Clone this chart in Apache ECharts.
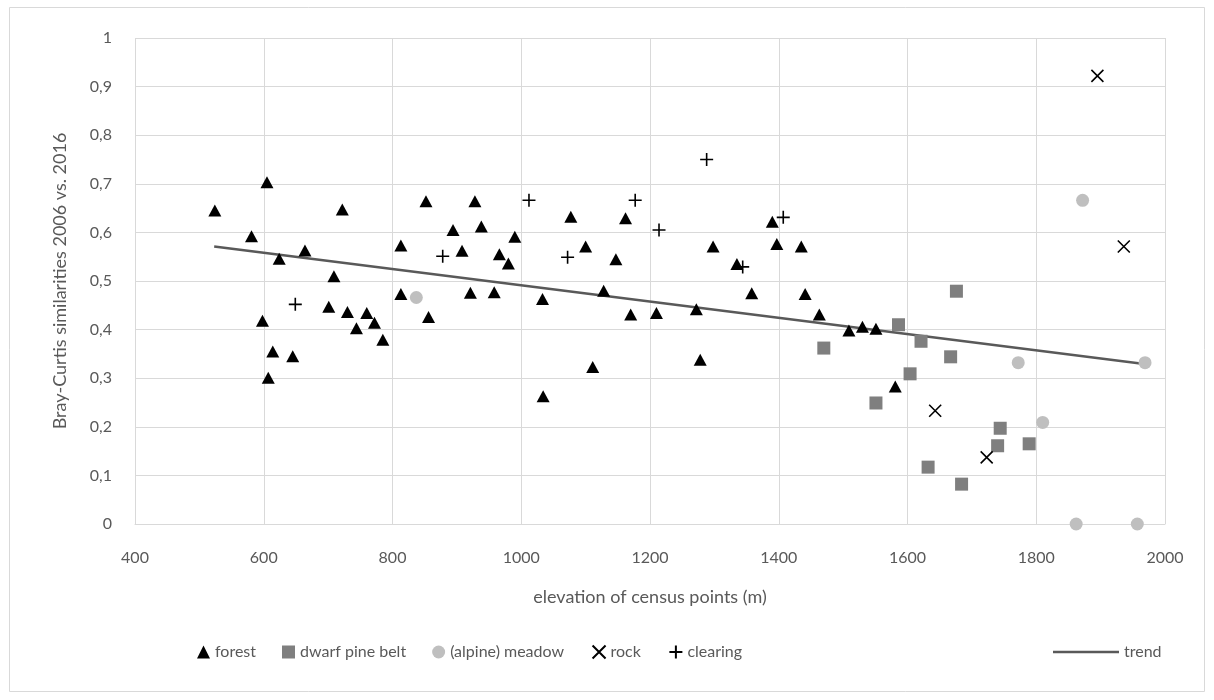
<!DOCTYPE html>
<html><head><meta charset="utf-8">
<script src="https://cdn.jsdelivr.net/npm/echarts@6/dist/echarts.min.js"></script>
<style>html,body{margin:0;padding:0;background:#fff}#c{width:1214px;height:700px}</style>
</head><body><div id="c"></div>
<script>
const xTicks = [400, 600, 800, 1000, 1200, 1400, 1600, 1800, 2000];
const forest = [[524,0.645],[605,0.703],[722,0.647],[581,0.592],[624,0.546],[664,0.563],[709,0.510],[813,0.573],[852,0.664],[928,0.664],[894,0.605],[908,0.562],[813,0.473],[856,0.426],[921,0.476],[598,0.418],[701,0.447],[730,0.436],[760,0.434],[744,0.403],[772,0.414],[785,0.379],[614,0.355],[645,0.345],[607,0.301],
[938,0.612],[990,0.591],[966,0.555],[980,0.536],[1077,0.632],[1162,0.629],[1100,0.571],[1147,0.545],[1298,0.571],[1335,0.535],[1358,0.475],[958,0.477],[1033,0.463],[1128,0.480],[1170,0.431],[1210,0.434],[1272,0.442],[1111,0.323],[1278,0.338],[1034,0.263],
[1390,0.622],[1397,0.576],[1435,0.571],[1441,0.473],[1463,0.431],[1509,0.398],[1530,0.406],[1551,0.402],[1581,0.283]];
const dwarfPine = [[1470,0.362],[1586,0.410],[1621,0.376],[1676,0.479],[1667,0.344],[1604,0.309],[1551,0.249],[1744,0.197],[1740,0.161],[1789,0.165],[1632,0.117],[1684,0.082]];
const meadow = [[837,0.466],[1872,0.666],[1772,0.332],[1969,0.332],[1810,0.209],[1862,0],[1957,0]];
const rock = [[1895,0.922],[1936,0.571],[1643,0.233],[1723,0.137]];
const clearing = [[649,0.452],[878,0.551],[1012,0.666],[1072,0.549],[1177,0.666],[1214,0.605],[1288,0.750],[1344,0.529],[1407,0.631]];
const trend = [[523,0.571],[1968,0.329]];

const FONT = 'Lato';
const TXT = '#595959';
const GRID = '#d9d9d9';
const chart = echarts.init(document.getElementById('c'), null, {renderer:'canvas'});
const crossPath = 'path://M0,0L10,10M10,0L0,10';
const plusPath = 'path://M5,0L5,10M0,5L10,5';
chart.setOption({
  animation:false,
  backgroundColor:'#fff',
  textStyle:{fontFamily:FONT},
  graphic:[{type:'rect',shape:{x:9.5,y:7.5,width:1195,height:684},style:{fill:'none',stroke:GRID,lineWidth:1},silent:true}],
  grid:{left:135,right:49,top:38,bottom:176,containLabel:false},
  xAxis:{type:'value',min:xTicks[0],max:xTicks[xTicks.length-1],interval:200,
    name:'elevation of census points (m)',nameLocation:'middle',nameGap:64,
    nameTextStyle:{fontFamily:FONT,fontSize:18,color:TXT},
    axisLine:{show:true,lineStyle:{color:GRID,width:1}},axisTick:{show:false},
    axisLabel:{fontFamily:FONT,fontSize:16,color:TXT,margin:26,formatter:v=>String(v)},
    splitLine:{show:true,lineStyle:{color:GRID,width:1}}},
  yAxis:{type:'value',min:0,max:1,interval:0.1,
    name:'Bray-Curtis similarities 2006 vs. 2016',nameLocation:'middle',nameGap:66,
    nameTextStyle:{fontFamily:FONT,fontSize:18,color:TXT},
    axisLine:{show:false},axisTick:{show:false},
    axisLabel:{fontFamily:FONT,fontSize:16,color:TXT,margin:23,formatter:v=>String(Math.round(v*10)/10).replace('.',',')},
    splitLine:{show:true,lineStyle:{color:GRID,width:1}}},
  legend:[{
    data:['forest','dwarf pine belt','(alpine) meadow','rock','clearing'],
    left:192,top:638,itemWidth:13,itemHeight:13,itemGap:26,
    textStyle:{fontFamily:FONT,fontSize:16,color:TXT}
  },{
    data:[{name:'trend',icon:'rect'}],left:1048,top:639,itemWidth:66,itemHeight:2.5,
    textStyle:{fontFamily:FONT,fontSize:16,color:TXT}
  }],
  series:[
    {name:'trend',type:'line',data:trend,symbol:'none',lineStyle:{color:'#595959',width:2.5},itemStyle:{color:'#595959'},z:1},
    {name:'forest',type:'scatter',data:forest,symbol:'triangle',symbolSize:[13,12],itemStyle:{color:'#000',opacity:1},z:3},
    {name:'dwarf pine belt',type:'scatter',data:dwarfPine,symbol:'rect',symbolSize:13,itemStyle:{color:'#7f7f7f',opacity:1},z:3},
    {name:'(alpine) meadow',type:'scatter',data:meadow,symbol:'circle',symbolSize:13,itemStyle:{color:'#bfbfbf',opacity:1},z:2},
    {name:'rock',type:'scatter',data:rock,symbol:crossPath,symbolSize:12,itemStyle:{color:'none',borderColor:'#000',borderWidth:1.6,opacity:1},z:3},
    {name:'clearing',type:'scatter',data:clearing,symbol:plusPath,symbolSize:13,itemStyle:{color:'none',borderColor:'#000',borderWidth:1.6,opacity:1},z:3}
  ]
});
</script></body></html>
